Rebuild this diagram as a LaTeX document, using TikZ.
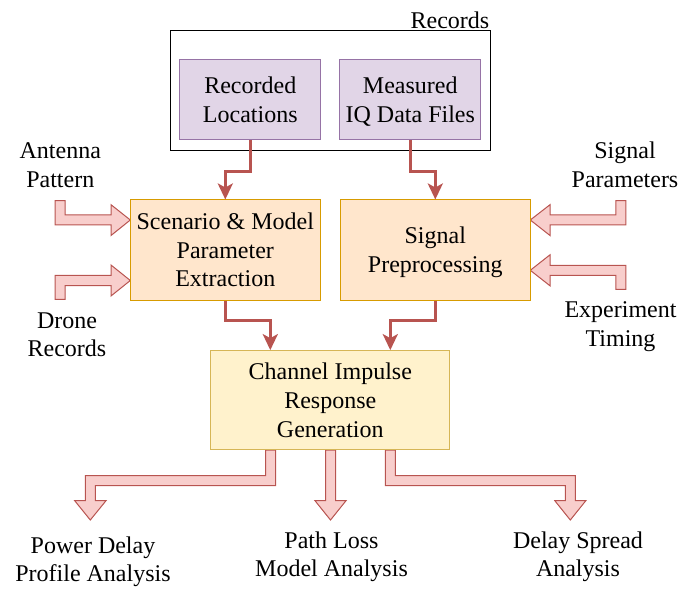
\documentclass[tikz,border=0pt]{standalone}
\usepackage{fontspec}
\setmainfont{Liberation Serif}
\usetikzlibrary{arrows.meta}
\definecolor{purF}{HTML}{E1D5E7}
\definecolor{purD}{HTML}{9673A6}
\definecolor{orF}{HTML}{FFE6CC}
\definecolor{orD}{HTML}{D79B00}
\definecolor{yeF}{HTML}{FFF2CC}
\definecolor{yeD}{HTML}{D6B656}
\definecolor{reF}{HTML}{F8CECC}
\definecolor{reD}{HTML}{B85450}
\newcommand{\ls}{\rule[-6.3pt]{0pt}{28.8pt}}
\begin{document}
\begin{tikzpicture}[x=1pt,y=-1pt,font=\fontsize{24}{28.8}\selectfont,
  box/.style={draw,line width=1pt,inner sep=0pt,align=center},
  recbox/.style={box,fill=purF,draw=purD,minimum width=140.7pt,minimum height=80pt},
  orbox/.style={box,fill=orF,draw=orD,minimum width=190.3pt,minimum height=100pt},
  yebox/.style={box,fill=yeF,draw=yeD,minimum width=239.3pt,minimum height=99.3pt},
  lbl/.style={inner sep=0pt,align=center},
  conn/.style={draw=reD,line width=3pt,line join=miter,
    -{Stealth[length=16pt,width=15pt,inset=4pt]}},
  barrow/.style={fill=reF,draw=reD,line width=1pt,line join=miter}]
\useasboundingbox (0,0) rectangle (691,596);
% block arrows
\draw[barrow] (55.2,200.7) -- (65.2,200.7) -- (65.2,215) -- (111,215) -- (111,204.7) -- (130.3,220) -- (111,235.5) -- (111,225) -- (55.2,225) -- cycle;
\draw[barrow] (55.2,299.3) -- (55.2,275.5) -- (111,275.5) -- (111,265) -- (130.3,280.5) -- (111,296) -- (111,285.5) -- (65.2,285.5) -- (65.2,299.3) -- cycle;
\draw[barrow] (625.8,200.7) -- (615.8,200.7) -- (615.8,215) -- (550,215) -- (550,204.7) -- (530.3,220) -- (550,235.5) -- (550,225) -- (625.8,225) -- cycle;
\draw[barrow] (625.8,289.3) -- (625.8,265.3) -- (550,265.3) -- (550,254.8) -- (530.3,270.3) -- (550,285.8) -- (550,275.3) -- (615.8,275.3) -- (615.8,289.3) -- cycle;
\draw[barrow] (275.5,450) -- (275.5,485.7) -- (95.3,485.7) -- (95.3,500.7) -- (106,500.7) -- (90.3,520) -- (74.7,500.7) -- (85.3,500.7) -- (85.3,475.7) -- (265.5,475.7) -- (265.5,450) -- cycle;
\draw[barrow] (335.5,450) -- (335.5,500.7) -- (346,500.7) -- (330.5,520) -- (315,500.7) -- (325.5,500.7) -- (325.5,450) -- cycle;
\draw[barrow] (385.3,450) -- (385.3,485.7) -- (565.3,485.7) -- (565.3,500.7) -- (554.8,500.7) -- (570.3,520) -- (585.8,500.7) -- (575.3,500.7) -- (575.3,475.7) -- (395.3,475.7) -- (395.3,450) -- cycle;
% records group
\node[draw,line width=1pt,minimum width=320.4pt,minimum height=119.7pt,inner sep=0pt] (recs) at (330.5,90.5) {};
\node[lbl,anchor=east] (reclbl) at (489.5,20.2) {\ls Records};
\node[recbox] (loc) at (250.3,100) {\ls Recorded\\\ls Locations};
\node[recbox] (iq) at (410.3,100) {\ls Measured\\\ls IQ Data Files};
% processing boxes
\node[orbox] (scen) at (225.3,250) {\ls Scenario \& Model\\\ls Parameter\\\ls Extraction};
\node[orbox] (sig) at (435.3,250) {\ls Signal\\\ls Preprocessing};
\node[yebox] (cir) at (330.3,400.3) {\ls Channel Impulse\\\ls Response\\\ls Generation};
% labels
\node[lbl] (ant) at (60.3,165.3) {\ls Antenna\\\ls Pattern};
\node[lbl] (drone) at (67,334.4) {\ls Drone\\\ls Records};
\node[lbl] (sp) at (625,165.2) {\ls Signal\\\ls Parameters};
\node[lbl] (et) at (620.5,324) {\ls Experiment\\\ls Timing};
\node[lbl] (pdp) at (93,559.4) {\ls Power Delay\\\ls Profile Analysis};
\node[lbl] (pl) at (331.5,554.4) {\ls Path Loss\\\ls Model Analysis};
\node[lbl] (ds) at (578,554.4) {\ls Delay Spread\\\ls Analysis};
% connectors
\draw[conn] (loc.south) -- ++(0,30.7) -| (scen.north);
\draw[conn] (iq.south) -- ++(0,30.7) -| (sig.north);
\draw[conn] (scen.south) -- ++(0,20) -| ([xshift=-60pt]cir.north);
\draw[conn] (sig.south) -- ++(0,20) -| ([xshift=60pt]cir.north);
\end{tikzpicture}
\end{document}
